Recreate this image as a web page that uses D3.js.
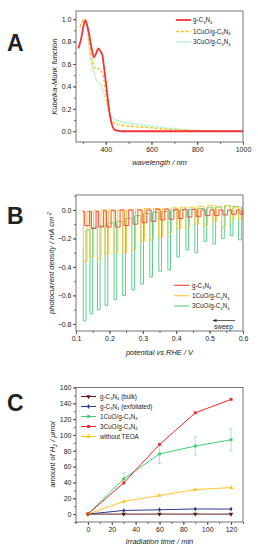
<!DOCTYPE html>
<html><head><meta charset="utf-8">
<script src="https://cdn.jsdelivr.net/npm/d3@7"></script>
<style>
body{margin:0;background:#fff}
svg{display:block}
text{font-family:"Liberation Sans",Arial,sans-serif;fill:#222}
</style>
</head><body>
<svg id="chart" width="258" height="550"></svg>
<script>
// ---------- Panel A : Kubelka-Munk spectra ----------
const seriesNamesA = ["g-C₃N₄", "1CuO/g-C₃N₄", "3CuO/g-C₃N₄"];
const wlRed   = [280,292,302,310,317,328,339,349,359,368,378,385,392,400,410,420,430,440,455,470,600,800,1000];
const kmRed   = [0.74,0.82,0.93,0.99,0.96,0.86,0.73,0.66,0.70,0.74,0.71,0.68,0.58,0.45,0.27,0.12,0.04,0.012,0.003,0,0,0,0];
const wlYel   = [287,295,302,310,320,330,342,349,356,364,372,380,388,395,400,411,421,430,440,460,500,550,600,650,700,800,900,1000];
const kmYel   = [0.93,0.96,0.99,1.0,0.92,0.77,0.62,0.57,0.56,0.556,0.56,0.54,0.50,0.42,0.35,0.21,0.12,0.085,0.07,0.057,0.046,0.038,0.03,0.021,0.014,0.005,0.001,0];
const wlGrn   = [287,295,302,310,320,330,339,349,359,371,382,392,402,414,425,435,445,460,480,500,550,600,650,700,750,800,900,1000];
const kmGrn   = [0.93,0.97,1.0,0.99,0.89,0.69,0.58,0.53,0.46,0.43,0.40,0.34,0.26,0.175,0.13,0.11,0.10,0.09,0.08,0.072,0.058,0.045,0.033,0.022,0.014,0.008,0.002,0];
const ticksAx = [400,600,800,1000];
const ticksAy = [0.0,0.2,0.4,0.6,0.8,1.0];

// ---------- Panel B : chopped photocurrent ----------
const seriesNamesB = ["g-C₃N₄", "1CuO/g-C₃N₄", "3CuO/g-C₃N₄"];
const pulseStart = [0.122,0.142,0.164,0.187,0.214,0.240,0.267,0.294,0.321,0.348,0.375,0.402,0.429,0.456,0.483,0.510,0.536,0.562,0.587];
const redStart = -0.01;
const redDepth = [-0.11,-0.13,-0.12,-0.12,-0.12,-0.11,-0.10,-0.09,-0.08,-0.07,-0.065,-0.06,-0.05,-0.045,-0.04,-0.04,-0.035,-0.03,-0.03];
const redDark  = [-0.01,-0.01,-0.005,-0.005,0,0,0,0,0.005,0.005,0.005,0.005,0.005,0,0,0,0,0,0];
const yelStart = 0;
const yelDepth = [-0.36,-0.33,-0.34,-0.31,-0.30,-0.30,-0.28,-0.22,-0.21,-0.19,-0.16,-0.13,-0.12,-0.10,-0.11,-0.08,-0.12,-0.07,-0.06];
const yelDark  = [-0.01,-0.005,0,0,0,0,0.005,0.01,0.01,0.01,0.015,0.02,0.02,0.025,0.03,0.025,0.03,0.02,0.01];
const grnStart = -0.27;
const grnDepth = [-0.78,-0.73,-0.70,-0.67,-0.63,-0.60,-0.56,-0.52,-0.47,-0.43,-0.42,-0.33,-0.28,-0.30,-0.22,-0.24,-0.20,-0.18,-0.21];
const grnDark  = [-0.14,-0.12,-0.11,-0.09,-0.08,-0.06,-0.04,-0.025,-0.015,-0.01,-0.005,0,0.005,0.01,0.015,0.02,0.03,0.025,0.02];
const pulseOffset = {red:0.004, yel:0.0, grn:0.0};
const pulseWidth  = {red:0.014, yel:0.011, grn:0.008};
const ticksBx = [0.1,0.2,0.3,0.4,0.5,0.6];
const ticksBy = [0.0,-0.2,-0.4,-0.6,-0.8];

// ---------- Panel C : H2 evolution ----------
const seriesNamesC = ["g-C₃N₄ (bulk)", "g-C₃N₄ (exfoliated)", "1CuO/g-C₃N₄", "3CuO/g-C₃N₄", "without TEOA"];
const times   = [0,30,60,90,120];
const h2Bulk  = [0,0,0,0,0];
const h2Exf   = [0,4.6,5.4,6.5,6.3];
const h2Cu1   = [0,44.5,76,86,94];
const h2Cu1Err= [0,7.5,12,11.5,14.5];
const h2Cu3   = [0,39.5,88,128,145];
const h2NoTEOA= [0,16,23.5,31,33.5];
const ticksCx = [0,20,40,60,80,100,120];
const ticksCy = [0,20,40,60,80,100,120,140,160];

// ---------- helpers ----------
const svg = d3.select("#chart");
const SUB = {"₀":"0","₁":"1","₂":"2","₃":"3","₄":"4","₅":"5","₆":"6","₇":"7","₈":"8","₉":"9"};
const SUP = {"⁻":"-","²":"2"};
function rich(sel, str, fs){
  const runs=[];
  for(const ch of str){
    const t = SUB[ch]!==undefined?"sub":(SUP[ch]!==undefined?"sup":"n");
    const c = t==="sub"?SUB[ch]:(t==="sup"?SUP[ch]:ch);
    if(runs.length && runs[runs.length-1].t===t) runs[runs.length-1].s+=c; else runs.push({t,s:c});
  }
  let shift=0;
  runs.forEach(r=>{
    const target = r.t==="sub"? fs*0.28 : (r.t==="sup"? -fs*0.4 : 0);
    const ts = sel.append("tspan").attr("dy", target-shift).text(r.s);
    if(r.t!=="n") ts.attr("font-size", fs*0.68);
    shift = target;
  });
}
function minorRange(a,b,step){const o=[];for(let v=Math.ceil(a/step-1e-9)*step; v<=b+1e-9; v+=step)o.push(+v.toFixed(6));return o;}

function panel(x, y, xt, yt, xMinorStep, yMinorStep, fmtX, fmtY){
  const g = svg.append("g");
  const [x0,x1]=x.range(), [y0,y1]=y.range();
  // minor ticks
  const xd=x.domain(), yd=y.domain();
  g.append("g").attr("transform",`translate(0,${y0})`)
    .call(d3.axisBottom(x).tickValues(minorRange(xd[0],xd[1],xMinorStep)).tickSize(1.8).tickFormat(""))
    .call(a=>a.select(".domain").remove()).selectAll("line").attr("stroke","#555");
  g.append("g").attr("transform",`translate(${x0},0)`)
    .call(d3.axisLeft(y).tickValues(minorRange(yd[0],yd[1],yMinorStep)).tickSize(1.8).tickFormat(""))
    .call(a=>a.select(".domain").remove()).selectAll("line").attr("stroke","#555");
  // major ticks
  const ax = g.append("g").attr("transform",`translate(0,${y0})`)
    .call(d3.axisBottom(x).tickValues(xt).tickSize(3).tickPadding(2.5).tickFormat(fmtX));
  ax.select(".domain").remove();
  const ay = g.append("g").attr("transform",`translate(${x0},0)`)
    .call(d3.axisLeft(y).tickValues(yt).tickSize(3).tickPadding(1.5).tickFormat(fmtY));
  ay.select(".domain").remove();
  [ax,ay].forEach(a=>{
    a.selectAll("line").attr("stroke","#555");
    a.selectAll("text").attr("font-size",7).attr("fill","#222").style("font-family",'"Liberation Sans",Arial,sans-serif');
  });
  g.append("rect").attr("x",x0).attr("y",y1).attr("width",x1-x0).attr("height",y0-y1)
    .attr("fill","none").attr("stroke","#666").attr("stroke-width",0.9);
  return g;
}
function title(x,y,str,rot){
  const t = svg.append("text").attr("font-size",7.5).attr("font-style","italic").attr("text-anchor","middle")
    .attr("transform", rot?`translate(${x},${y}) rotate(-90)`:`translate(${x},${y})`);
  rich(t,str,7.5);
}
function panelLabel(x,y,s){
  svg.append("text").attr("x",x).attr("y",y).attr("font-size",23).attr("font-weight","bold").attr("fill","#111").text(s);
}

// ================= Panel A =================
const xA = d3.scaleLinear([270,1000],[76,243]);
const yA = d3.scaleLinear([-0.096,1.073],[142,11]);
const clipA = svg.append("clipPath").attr("id","clA").append("rect").attr("x",76).attr("y",11).attr("width",167).attr("height",131);
const gA = svg.append("g").attr("clip-path","url(#clA)");
const lineA = d3.line().x(d=>xA(d[0])).y(d=>yA(d[1])).curve(d3.curveMonotoneX);
const stylesA = [
  {c:"#86e0a8", w:1.2, dash:"1,1", wl:wlGrn, km:kmGrn},
  {c:"#ffbf1f", w:1.4, dash:"3,1.8", wl:wlYel, km:kmYel},
  {c:"#f2333a", w:1.8, dash:null, wl:wlRed, km:kmRed}
];
stylesA.forEach(s=>{
  gA.append("path").attr("d", lineA(d3.zip(s.wl,s.km))).attr("fill","none")
    .attr("stroke",s.c).attr("stroke-width",s.w).attr("stroke-dasharray",s.dash);
});
panel(xA,yA,ticksAx,ticksAy,100,0.1,d3.format("d"),d3.format(".1f"));
title(159.5,165,"wavelength / nm",false);
title(56.5,76.5,"Kubelka-Munk function",true);
panelLabel(7,51,"A");
const legA = [{c:"#f2333a",w:1.8,dash:null},{c:"#ffbf1f",w:1.4,dash:"3,1.8"},{c:"#86e0a8",w:1.2,dash:"1,1"}];
[20,31.5,42].forEach((yy,i)=>{
  svg.append("line").attr("x1",176).attr("x2",191).attr("y1",yy).attr("y2",yy)
    .attr("stroke",legA[i].c).attr("stroke-width",legA[i].w).attr("stroke-dasharray",legA[i].dash);
  const t = svg.append("text").attr("x",193).attr("y",yy+2.2).attr("font-size",6.3);
  rich(t,seriesNamesA[i],6.3);
});

// ================= Panel B =================
const xB = d3.scaleLinear([0.1,0.6],[76,243]);
const yB = d3.scaleLinear([-0.85,0.105],[331,195]);
function chopPoints(start, depth, dark, off, w){
  const pts=[[0.12,start]];
  let level=start;
  pulseStart.forEach((p,i)=>{
    const s=Math.max(0.1205,p+off), e=Math.min(0.5995,p+off+w);
    pts.push([s,level]); pts.push([s,depth[i]]); pts.push([e,depth[i]]); pts.push([e,dark[i]]);
    level=dark[i];
  });
  pts.push([0.6,level]);
  return pts;
}
const lineB = d3.line().x(d=>xB(d[0])).y(d=>yB(d[1]));
const gB = svg.append("g");
[
  {c:"#5cd08a", pts:chopPoints(grnStart,grnDepth,grnDark,pulseOffset.grn,pulseWidth.grn)},
  {c:"#ffc933", pts:chopPoints(yelStart,yelDepth,yelDark,pulseOffset.yel,pulseWidth.yel)},
  {c:"#f44a4a", pts:chopPoints(redStart,redDepth,redDark,pulseOffset.red,pulseWidth.red)}
].forEach(s=>{
  gB.append("path").attr("d",lineB(s.pts)).attr("fill","none").attr("stroke",s.c).attr("stroke-width",1);
});
panel(xB,yB,ticksBx,ticksBy,0.05,0.1,d3.format(".1f"),d3.format(".1f"));
title(159.5,355,"potential vs RHE / V",false);
title(54,263,"photocurrent density / mA cm⁻²",true);
panelLabel(7,224,"B");
const legBc=["#f44a4a","#ffc933","#5cd08a"];
[285.3,295.7,306].forEach((yy,i)=>{
  svg.append("line").attr("x1",174).attr("x2",189).attr("y1",yy).attr("y2",yy).attr("stroke",legBc[i]).attr("stroke-width",1.2);
  const t = svg.append("text").attr("x",192).attr("y",yy+2.2).attr("font-size",6.3);
  rich(t,seriesNamesB[i],6.3);
});
svg.append("line").attr("x1",235).attr("x2",215).attr("y1",320.5).attr("y2",320.5).attr("stroke","#222").attr("stroke-width",0.7);
svg.append("path").attr("d","M212.5,320.5 L216.5,319 L216.5,322 Z").attr("fill","#222");
svg.append("text").attr("x",214).attr("y",328.5).attr("font-size",6.5).text("sweep");

// ================= Panel C =================
const xC = d3.scaleLinear([-10,130],[76,243]);
const yC = d3.scaleLinear([-10,160],[522,387.5]);
const lineC = d3.line().x(d=>xC(d[0])).y(d=>yC(d[1]));
const gC = svg.append("g");
const tri = d3.symbol().type(d3.symbolTriangle).size(9);
const sq = d3.symbol().type(d3.symbolSquare).size(8);
const dia = d3.symbol().type(d3.symbolDiamond).size(7);
const seriesC = [
  {c:"#5e1b1b", v:h2Bulk, sym:tri, rot:180},
  {c:"#2d3a8f", v:h2Exf, sym:dia, rot:0},
  {c:"#ffc629", v:h2NoTEOA, sym:tri, rot:0},
  {c:"#3fcf70", v:h2Cu1, sym:sq, rot:0, err:h2Cu1Err},
  {c:"#f2282a", v:h2Cu3, sym:sq, rot:0}
];
seriesC.forEach(s=>{
  const pts=d3.zip(times,s.v);
  if(s.err){
    pts.forEach((p,i)=>{
      if(!s.err[i]) return;
      const xx=xC(p[0]), ya=yC(p[1]+s.err[i]), yb=yC(p[1]-s.err[i]);
      gC.append("line").attr("x1",xx).attr("x2",xx).attr("y1",ya).attr("y2",yb).attr("stroke","#8fe0ab").attr("stroke-width",0.7);
      [ya,yb].forEach(yy=>gC.append("line").attr("x1",xx-1.8).attr("x2",xx+1.8).attr("y1",yy).attr("y2",yy).attr("stroke","#8fe0ab").attr("stroke-width",0.7));
    });
  }
  gC.append("path").attr("d",lineC(pts)).attr("fill","none").attr("stroke",s.c).attr("stroke-width",1);
  pts.forEach(p=>{
    gC.append("path").attr("d",s.sym()).attr("fill",s.c)
      .attr("transform",`translate(${xC(p[0])},${yC(p[1])}) rotate(${s.rot})`);
  });
});
panel(xC,yC,ticksCx,ticksCy,10,10,d3.format("d"),d3.format("d"));
title(159.5,544,"irradiation time / min",false);
title(55,454.5,"amount of H₂ / μmol",true);
panelLabel(7,411,"C");
const legC = [
  {c:"#5e1b1b", sym:tri, rot:180},
  {c:"#2d3a8f", sym:dia, rot:0},
  {c:"#3fcf70", sym:sq, rot:0},
  {c:"#f2282a", sym:sq, rot:0},
  {c:"#ffc629", sym:tri, rot:0}
];
[396.5,406.5,416.5,426.5,436.5].forEach((yy,i)=>{
  svg.append("line").attr("x1",81).attr("x2",96).attr("y1",yy).attr("y2",yy).attr("stroke",legC[i].c).attr("stroke-width",1);
  svg.append("path").attr("d",legC[i].sym()).attr("fill",legC[i].c).attr("transform",`translate(88.5,${yy}) rotate(${legC[i].rot})`);
  const t = svg.append("text").attr("x",100).attr("y",yy+2.2).attr("font-size",6.3);
  rich(t,seriesNamesC[i],6.3);
});
</script>
</body></html>
